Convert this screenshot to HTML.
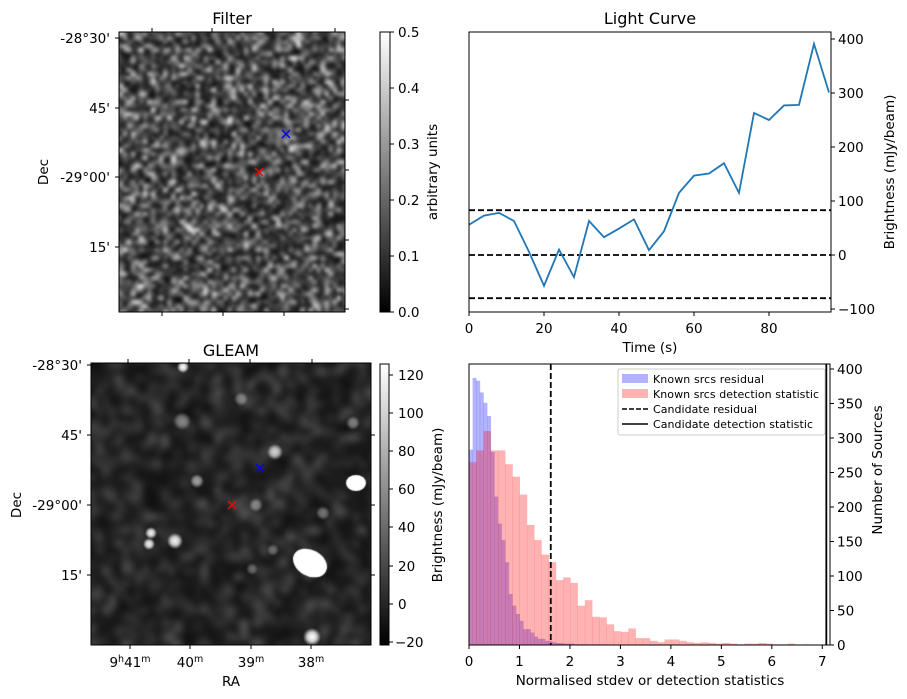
<!DOCTYPE html>
<html><head><meta charset="utf-8">
<style>
body{margin:0;background:#fff;}
svg{display:block;font-family:"DejaVu Sans","Liberation Sans",sans-serif;}
canvas{position:absolute;}
#wrap{position:relative;width:907px;height:699px;}
</style></head>
<body>
<div id="wrap">
<canvas id="filterImg" width="226" height="280" style="left:119px;top:32px"></canvas>
<canvas id="gleamImg" width="280" height="282" style="left:91px;top:363px"></canvas>
<svg id="svg" width="907" height="699" style="position:absolute;left:0;top:0">
<defs>
<linearGradient id="cbg" x1="0" y1="1" x2="0" y2="0"><stop offset="0" stop-color="#000"/><stop offset="1" stop-color="#fff"/></linearGradient>
</defs>
<!-- Filter panel -->
<text x="232" y="24" font-size="16" text-anchor="middle">Filter</text>
<rect x="119" y="32" width="226" height="280" fill="none" stroke="#000" stroke-width="1"/>
<g font-size="13.5" text-anchor="end">
<text x="110" y="43">-28°30'</text><text x="110" y="113">45'</text><text x="110" y="182">-29°00'</text><text x="110" y="252">15'</text>
<path d="M119 38h-4M119 108h-4M119 177h-4M119 247h-4M345 100h4M345 170h4M345 240h4M345 309h4M152 32v-4M212 32v-4M273 32v-4M335 32v-4M162 312v4M223 312v4M284 312v4" stroke="#000"/>
</g>
<text transform="translate(48,172) rotate(-90)" font-size="13.5" text-anchor="middle">Dec</text>
<g><path d="M255 168l8 8M263 168l-8 8" stroke="red" stroke-width="1.3"/></g>
<g><path d="M282 130l8 8M290 130l-8 8" stroke="blue" stroke-width="1.3"/></g>
<rect x="380" y="32" width="10" height="280" fill="url(#cbg)" stroke="#000"/>
<g font-size="13.5">
<path d="M390 32h4M390 88h4M390 144h4M390 200h4M390 256h4M390 312h4" stroke="#000"/>
<text x="398" y="37">0.5</text><text x="398" y="93">0.4</text><text x="398" y="149">0.3</text><text x="398" y="205">0.2</text><text x="398" y="261">0.1</text><text x="398" y="317">0.0</text>
</g>
<text transform="translate(437,172) rotate(-90)" font-size="13.5" text-anchor="middle">arbitrary units</text>

<!-- GLEAM panel -->
<text x="231" y="356" font-size="16" text-anchor="middle">GLEAM</text>
<rect x="91" y="363" width="280" height="282" fill="none" stroke="#000"/>
<g font-size="13.5" text-anchor="end">
<text x="82" y="370">-28°30'</text><text x="82" y="440">45'</text><text x="82" y="510">-29°00'</text><text x="82" y="580">15'</text>
<path d="M91 365h-4M91 435h-4M91 505h-4M91 575h-4M371 435h4M371 505h4M371 575h4M128 363v-4M189 363v-4M250 363v-4M312 363v-4M130 645v4M190 645v4M251 645v4M311 645v4" stroke="#000"/>
</g>
<g font-size="13.5" text-anchor="middle">
<text x="130" y="667">9<tspan font-size="9.5" dy="-5">h</tspan><tspan dy="5">41</tspan><tspan font-size="9.5" dy="-5">m</tspan></text>
<text x="190" y="667">40<tspan font-size="9.5" dy="-5">m</tspan></text>
<text x="251" y="667">39<tspan font-size="9.5" dy="-5">m</tspan></text>
<text x="311" y="667">38<tspan font-size="9.5" dy="-5">m</tspan></text>
</g>
<text x="231" y="686" font-size="13.5" text-anchor="middle">RA</text>
<text transform="translate(21,505) rotate(-90)" font-size="13.5" text-anchor="middle">Dec</text>
<g><path d="M228 501l8 8M236 501l-8 8" stroke="red" stroke-width="1.3"/></g>
<g><path d="M256 464l8 8M264 464l-8 8" stroke="blue" stroke-width="1.3"/></g>
<rect x="380" y="364" width="9" height="281" fill="url(#cbg)" stroke="#000"/>
<g font-size="13.5">
<path d="M389 375h4M389 413h4M389 451h4M389 489h4M389 527h4M389 566h4M389 604h4M389 642h4" stroke="#000"/>
<text x="398" y="380">120</text><text x="398" y="418">100</text><text x="398" y="456">80</text><text x="398" y="494">60</text><text x="398" y="532">40</text><text x="398" y="571">20</text><text x="398" y="609">0</text><text x="395" y="647">−20</text>
</g>
<text transform="translate(442,505) rotate(-90)" font-size="13.5" text-anchor="middle">Brightness (mJy/beam)</text>

<!-- Light curve -->
<text x="650" y="24" font-size="16" text-anchor="middle">Light Curve</text>
<g id="lc"></g>
<rect x="469" y="32" width="362" height="280" fill="none" stroke="#000"/>
<text x="650" y="352" font-size="13.5" text-anchor="middle">Time (s)</text>
<text transform="translate(894,172) rotate(-90)" font-size="13.5" text-anchor="middle">Brightness (mJy/beam)</text>

<!-- Histogram -->
<g id="hist"></g>
<rect x="469" y="364" width="361" height="281" fill="none" stroke="#000"/>
<text x="650" y="685" font-size="13.5" text-anchor="middle">Normalised stdev or detection statistics</text>
<text transform="translate(882,470) rotate(-90)" font-size="13.5" text-anchor="middle">Number of Sources</text>
<g>
<rect x="618" y="369" width="207" height="66" rx="2" fill="#fff" fill-opacity="0.85" stroke="#ccc"/>
<g><rect x="622" y="374" width="26" height="9" fill="rgba(0,0,255,0.3)"/><text x="653" y="383" font-size="11" textLength="111">Known srcs residual</text></g>
<g><rect x="622" y="389" width="26" height="9" fill="rgba(255,0,0,0.3)"/><text x="653" y="398" font-size="11" textLength="166">Known srcs detection statistic</text></g>
<g><path d="M622 409h26" stroke="#000" stroke-width="1.5" stroke-dasharray="5,2"/><text x="653" y="413" font-size="11" textLength="104">Candidate residual</text></g>
<g><path d="M622 424h26" stroke="#000" stroke-width="1.5"/><text x="653" y="428" font-size="11" textLength="160">Candidate detection statistic</text></g>
</g>
</svg>
</div>
<script>
// ---------- Light curve data ----------
const lcTimes = [0,4,8,12,16,20,24,28,32,36,40,44,48,52,56,60,64,68,72,76,80,84,88,92,96];
const lcValues = [56,73,78,63,6,-57,10,-41,63,33,49,66,9,44,115,147,151,170,115,263,250,277,278,391,301];
const lcThresholds = [83,0,-80];
const lcXTicks = [0,20,40,60,80];
const lcYTicks = [-100,0,100,200,300,400];
// ---------- Histogram data ----------
const redBinWidth = 0.1435;
const redCounts = [265,282,310,282,282,262,244,218,174,152,131,120,94,98,90,57,65,41,40,30,20,19,24,10,10,6,4,8,8,6,4,3,4,3,2,3,2,1,2,2,3,2,1,1,2,0,1];
const blueBinWidth = 0.0717;
const blueCounts = [283,387,383,366,351,332,280,215,176,152,120,74,57,45,35,23,23,18,12,9,9,6,6,4,3,3,2,2,2,1,1,1,1,0,1,1,0,1];
const candidateResidual = 1.62;
const candidateDetection = 7.08;
const histXTicks = [0,1,2,3,4,5,6,7];
const histYTicks = [0,50,100,150,200,250,300,350,400];

const NS="http://www.w3.org/2000/svg";
function mk(tag,attrs,parent){const e=document.createElementNS(NS,tag);for(const k in attrs)e.setAttribute(k,attrs[k]);parent.appendChild(e);return e;}

const lcX=t=>469+t*3.75, lcY=v=>255-v*0.54;
const lc=document.getElementById('lc');
lcThresholds.forEach(v=>{
  const l=mk('line',{x1:469,x2:831,y1:lcY(v),y2:lcY(v),stroke:'#000','stroke-width':1.8,'stroke-dasharray':'6,3'},lc);
  
  
});
const pl=mk('polyline',{points:lcTimes.map((t,i)=>lcX(t)+','+lcY(lcValues[i])).join(' '),fill:'none',stroke:'#1f77b4','stroke-width':1.8},lc);


lcXTicks.forEach(t=>{
  mk('line',{x1:lcX(t),x2:lcX(t),y1:312,y2:316,stroke:'#000'},lc);
  const tx=mk('text',{x:lcX(t),y:333,'font-size':13.5,'text-anchor':'middle'},lc);tx.textContent=t;
  
  
});
lcYTicks.forEach(v=>{
  mk('line',{x1:831,x2:835,y1:lcY(v),y2:lcY(v),stroke:'#000'},lc);
  const tx=mk('text',{x:838,y:lcY(v)+5,'font-size':13.5},lc);tx.textContent=v<0?'−'+(-v):v;
  
  
});

const hX=v=>469+v*50.47, hY=c=>645-c*0.69;
const hg=document.getElementById('hist');
blueCounts.forEach((c,i)=>{
  if(!c)return;
  const r=mk('rect',{x:hX(i*blueBinWidth),y:hY(c),width:blueBinWidth*50.47+0.3,height:c*0.69,fill:'rgba(0,0,255,0.3)'},hg);
  
  
});
redCounts.forEach((c,i)=>{
  if(!c)return;
  const r=mk('rect',{x:hX(i*redBinWidth),y:hY(c),width:redBinWidth*50.47+0.3,height:c*0.69,fill:'rgba(255,0,0,0.3)'},hg);
  
  
});
const cr=mk('line',{x1:hX(candidateResidual),x2:hX(candidateResidual),y1:364,y2:645,stroke:'#000','stroke-width':1.8,'stroke-dasharray':'6,3'},hg);


const cd=mk('line',{x1:hX(candidateDetection),x2:hX(candidateDetection),y1:364,y2:645,stroke:'#000','stroke-width':1.8},hg);


histXTicks.forEach(t=>{
  mk('line',{x1:hX(t),x2:hX(t),y1:645,y2:649,stroke:'#000'},hg);
  const tx=mk('text',{x:hX(t),y:666,'font-size':13.5,'text-anchor':'middle'},hg);tx.textContent=t;
  
  
});
histYTicks.forEach(v=>{
  mk('line',{x1:830,x2:834,y1:hY(v),y2:hY(v),stroke:'#000'},hg);
  const tx=mk('text',{x:837,y:hY(v)+5,'font-size':13.5},hg);tx.textContent=v;
  
  
});

// ---------- image textures ----------
let seed=12345;function rnd(){seed=(seed*1103515245+12345)&0x7fffffff;return seed/0x7fffffff;}
function noiseCanvas(w,h,lo,hi){
  const c=document.createElement('canvas');c.width=w;c.height=h;const x=c.getContext('2d');
  const d=x.createImageData(w,h);
  for(let i=0;i<w*h;i++){const v=lo+rnd()*rnd()*(hi-lo)*1.6;const g=Math.min(255,v);d.data[i*4]=d.data[i*4+1]=d.data[i*4+2]=g;d.data[i*4+3]=255;}
  x.putImageData(d,0,0);return c;
}
(function(){
  const c=document.getElementById('filterImg'),x=c.getContext('2d');
  x.fillStyle='#3a3a3a';x.fillRect(0,0,226,280);
  x.filter='blur(1.6px)';
  x.imageSmoothingEnabled=true;x.imageSmoothingQuality='high';
  x.drawImage(noiseCanvas(58,72,20,175),-4,-4,234,288);
  x.filter='none';
})();
(function(){
  const c=document.getElementById('gleamImg'),x=c.getContext('2d');
  x.fillStyle='#2a2a2a';x.fillRect(0,0,280,282);
  x.filter='blur(3px)';
  x.imageSmoothingEnabled=true;x.imageSmoothingQuality='high';
  x.drawImage(noiseCanvas(45,45,15,75),-8,-8,296,298);
  x.filter='none';
  const src=[[183,367,6,1],[182,421,9,0.45],[241,399,7,0.4],[275,452,8,0.8],[197,481,7,0.6],[353,423,7,0.45],[256,505,7,0.45],[151,533,6,0.95],[149,544,6,0.95],[175,541,8,0.95],[312,637,9,1],[323,513,7,0.4],[252,569,6,0.35],[273,550,6,0.35]];
  src.forEach(s=>{const gx=s[0]-91,gy=s[1]-363;const g=x.createRadialGradient(gx,gy,0,gx,gy,s[2]);const a=s[3];
    g.addColorStop(0,'rgba(255,255,255,'+a+')');g.addColorStop(0.5,'rgba(255,255,255,'+a*0.8+')');g.addColorStop(1,'rgba(255,255,255,0)');x.fillStyle=g;x.fillRect(gx-s[2],gy-s[2],2*s[2],2*s[2]);});
  x.fillStyle='#fff';
  x.beginPath();x.ellipse(356-91,483-363,10,8,0,0,Math.PI*2);x.fill();
  x.beginPath();x.ellipse(310-91,563-363,18,13,0.5,0,Math.PI*2);x.fill();
})();
</script>
</body></html>
